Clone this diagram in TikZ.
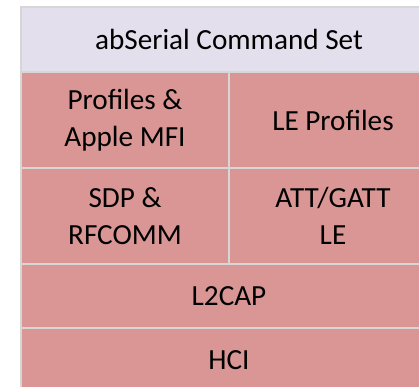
\documentclass[tikz,border=0pt]{standalone}
\usepackage{fontspec}
\setmainfont{Carlito}

\definecolor{cmdlilac}{HTML}{E4DFEC}
\definecolor{layerpink}{HTML}{D99694}
\definecolor{gridgray}{HTML}{D6D6D6}

\tikzset{
    layer/.style={draw=gridgray, line width=2.5pt, fill=layerpink, inner sep=0pt,
        align=center, font=\fontsize{29.2}{36.5}\selectfont},
    cmdlayer/.style={layer, fill=cmdlilac}
}

\begin{document}
\begin{tikzpicture}[x=1pt, y=-1pt]
    % Page frame
    \useasboundingbox (0,0) rectangle (419,386);
    \clip (0,0) rectangle (419,386);

    % Top of the stack
    \node[cmdlayer, minimum width=416pt, minimum height=65pt] (cmdset) at (229,39.5) {abSerial Command Set};

    % Split layers
    \node[layer, minimum width=208pt, minimum height=96pt] (profiles) at (125,120) {Profiles \&\\Apple MFI};
    \node[layer, minimum width=208pt, minimum height=96pt] (leprofiles) at (333,120) {LE Profiles};
    \node[layer, minimum width=208pt, minimum height=96pt] (sdp) at (125,216) {SDP \&\\RFCOMM};
    \node[layer, minimum width=208pt, minimum height=96pt] (attgatt) at (333,216) {ATT/GATT\\LE};

    % Full width layers at the bottom
    \node[layer, minimum width=416pt, minimum height=64pt] (l2cap) at (229,296) {L2CAP};
    \node[layer, minimum width=416pt, minimum height=64pt] (hci) at (229,360) {HCI};
\end{tikzpicture}
\end{document}
